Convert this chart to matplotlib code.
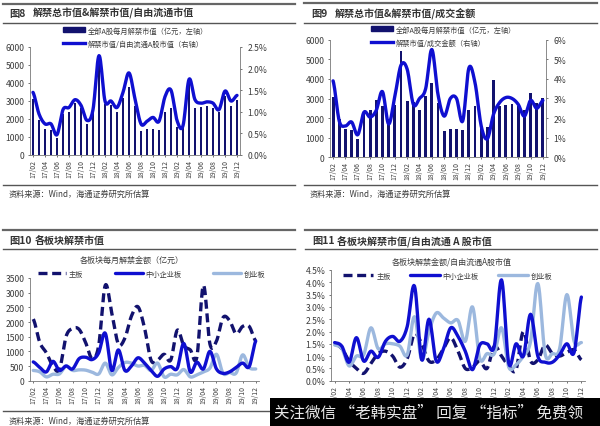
import numpy as np
import matplotlib
matplotlib.use("Agg")
import matplotlib.pyplot as plt
from matplotlib.lines import Line2D
from matplotlib.patches import Rectangle, Patch

plt.rcParams['font.family'] = ['Noto Sans CJK SC', 'DejaVu Sans']

W, H = 600, 427
months = [f"{y}/{m:02d}" for y, ms in ((17, range(2, 13)), (18, range(1, 13)), (19, range(1, 13))) for m in ms]

unlock_value = [3100, 1950, 1450, 1400, 950, 2300, 2400, 2900, 2600, 1750, 2650, 5400,
                2850, 2800, 2400, 3150, 3800, 2750, 1350, 1450, 1450, 1400, 2400, 2600,
                1550, 1550, 3950, 2600, 2650, 2700, 2600, 2400, 3300, 2750, 3050]
ratio_free_float = [1.45, 0.95, 0.72, 0.72, 0.47, 1.05, 1.1, 1.28, 1.15, 0.8, 1.05, 2.3,
                    1.25, 1.25, 1.1, 1.45, 1.9, 1.3, 0.72, 0.78, 0.87, 0.78, 1.35, 1.5,
                    0.8, 0.68, 1.75, 1.28, 1.2, 1.23, 1.2, 1.05, 1.48, 1.25, 1.38]
ratio_turnover = [3.9, 1.85, 1.6, 1.8, 1.15, 2.3, 2.05, 2.4, 3.35, 1.7, 3.1, 4.7,
                  4.5, 2.7, 3.0, 3.5, 5.5, 3.2, 2.1, 3.0, 3.0, 1.85, 4.55, 3.8,
                  1.6, 0.95, 2.2, 2.8, 3.05, 3.0, 2.7, 2.1, 2.9, 2.5, 2.9]
main_amt = [2100, 1300, 950, 500, 380, 1500, 1780, 1750, 1300, 750, 1200, 3250,
            2300, 1250, 1450, 2200, 2520, 1800, 700, 700, 900, 700, 1720, 1200,
            1050, 800, 3250, 1250, 1350, 2150, 2050, 1600, 1850, 1850, 1350]
sme_amt = [640, 450, 300, 660, 350, 500, 400, 750, 800, 720, 950, 1620,
           350, 1050, 350, 500, 780, 600, 350, 150, 400, 480, 420, 1270,
           300, 630, 400, 1000, 400, 250, 300, 450, 600, 480, 1350]
gem_amt = [350, 300, 130, 220, 230, 500, 350, 370, 360, 290, 230, 600,
           200, 450, 620, 600, 500, 520, 350, 600, 130, 220, 200, 380,
           130, 200, 300, 430, 900, 250, 280, 260, 880, 450, 400]
main_pct = [1.5, 1.3, 0.8, 0.5, 0.3, 0.7, 1.1, 1.2, 1.0, 0.55, 0.9, 1.9,
            1.5, 0.8, 0.85, 1.3, 1.75, 1.2, 0.5, 0.55, 0.8, 0.5, 1.4, 1.0,
            0.6, 0.45, 2.0, 0.8, 0.85, 1.45, 1.1, 1.0, 1.15, 1.25, 0.85]
sme_pct = [1.55, 1.4, 0.75, 1.75, 0.8, 1.2, 0.95, 1.6, 1.8, 1.6, 2.2, 3.85,
           0.85, 2.5, 0.8, 1.3, 2.15, 1.8, 1.2, 0.45, 1.45, 1.5, 1.4, 4.1,
           0.7, 1.5, 1.0, 2.7, 1.0, 0.75, 0.75, 1.05, 1.5, 1.15, 3.4]
gem_pct = [1.45, 1.3, 0.6, 1.0, 1.05, 2.15, 1.3, 1.5, 1.5, 1.4, 1.05, 2.6,
           0.85, 2.0, 2.75, 2.55, 2.35, 2.45, 1.6, 3.0, 0.9, 1.1, 1.1, 2.15,
           0.55, 0.65, 1.0, 1.6, 3.95, 1.1, 1.1, 1.3, 3.5, 1.6, 1.55]

NAVY, BLUE, LIGHT = '#12126e', '#0f0fd0', '#9cb8de'
TXT, RULE = '#3c3c3c', '#555555'
LW = 2.4
DASH = (2.7, 1.4)
TICK_FS = 6.2

fig = plt.figure(figsize=(W / 100, H / 100), dpi=100, facecolor='white')
idx = np.arange(len(months))


def fx(p):
    return p / W


def fy(p):
    return 1 - p / H


def make_ax(x0, x1, ytop, ybot):
    ax = fig.add_axes([fx(x0), fy(ybot), (x1 - x0) / W, (ybot - ytop) / H])
    ax.set_xlim(-0.5, len(months) - 0.5)
    ax.patch.set_alpha(0)
    for s in ('top', 'right'):
        ax.spines[s].set_visible(False)
    for s in ('left', 'bottom'):
        ax.spines[s].set_color('#777777')
        ax.spines[s].set_linewidth(0.6)
    ax.set_xticks(idx[::2], months[::2], rotation=90)
    ax.tick_params(axis='x', labelsize=4.9, length=1.5, width=0.5, pad=1.5, colors=TXT)
    ax.tick_params(axis='y', labelsize=TICK_FS, length=1.5, width=0.5, pad=2.5, colors=TXT)
    return ax


def smooth(y, n=12):
    """Excel-style smoothing used only to render the curve between read values."""
    y = np.asarray(y, float)
    p = np.concatenate(([y[0]], y, [y[-1]]))
    xs, ys = [], []
    for i in range(len(y) - 1):
        t = np.linspace(0, 1, n, endpoint=False)
        a, b, c, d = p[i], p[i + 1], p[i + 2], p[i + 3]
        ys.append(0.5 * (2 * b + (c - a) * t + (2 * a - 5 * b + 4 * c - d) * t ** 2 + (3 * b - a - 3 * c + d) * t ** 3))
        xs.append(i + t)
    return np.concatenate(xs + [[len(y) - 1]]), np.concatenate(ys + [[y[-1]]])


def curve(ax, y, color, dashed=False, z=3):
    xs, ys = smooth(y)
    ln, = ax.plot(xs, ys, color=color, lw=LW, zorder=z, solid_capstyle='round')
    if dashed:
        ln.set_linestyle((0, DASH))
        ln.set_dash_capstyle('butt')
    return ln


def frame(x0, x1, top, title_y, under, bottom, src_y, num, title, num_x, title_x, source=True):
    for y, lw, c in ((top, 1.6, '#666666'), (under, 1.0, RULE), (bottom, 1.0, RULE)):
        fig.add_artist(Line2D([fx(x0), fx(x1)], [fy(y), fy(y)], color=c, lw=lw))
    fig.text(fx(num_x), fy(title_y), num, fontsize=7.4, fontweight='bold', color='#333333', va='center')
    fig.text(fx(title_x), fy(title_y), title, fontsize=7.2, fontweight='bold', color='#333333', va='center')
    if source:
        fig.text(fx(x0 + 6), fy(src_y), '资料来源：Wind，海通证券研究所估算', fontsize=5.9, color=TXT, va='center')


def legend(ax, handles, labels, x, y, hl, ncols=1, col=1.0, row=0.5):
    leg = ax.legend(handles, labels, loc='center left', bbox_to_anchor=(fx(x), fy(y)),
                    bbox_transform=fig.transFigure, frameon=False, fontsize=5.2, ncols=ncols,
                    handlelength=hl, handletextpad=0.4, columnspacing=col, labelspacing=row,
                    borderpad=0, borderaxespad=0)
    for t in leg.get_texts():
        t.set_color(TXT)
    return leg


def combo(x0, x1, ytop, ybot, line, rmax, rstep, rfmt, labels, lx, ly, bar_w=0.46):
    ax = make_ax(x0, x1, ytop, ybot)
    ax.bar(idx, unlock_value, width=bar_w, color=NAVY, zorder=2)
    ax.set_ylim(0, 6000)
    ax.set_yticks(np.arange(0, 6001, 1000))
    ax2 = ax.twinx()
    ax2.patch.set_alpha(0)
    ax2.set_ylim(0, rmax)
    ax2.set_yticks(np.arange(0, rmax + 1e-6, rstep), [rfmt % v for v in np.arange(0, rmax + 1e-6, rstep)])
    ax2.tick_params(axis='y', labelsize=TICK_FS, length=1.5, width=0.5, pad=4, colors=TXT)
    ax2.spines['top'].set_visible(False)
    ax2.spines['left'].set_visible(False)
    ax2.spines['bottom'].set_visible(False)
    ax2.spines['right'].set_color('#777777')
    ax2.spines['right'].set_linewidth(0.6)
    curve(ax2, line, BLUE)
    legend(ax2, [Patch(color=NAVY), Line2D([], [], color=BLUE, lw=LW)], labels, lx, ly, 3.0, row=0.7)


frame(3, 295, 4.7, 13.5, 23.5, 186, 194, '图8', '解禁总市值&解禁市值/自由流通市值', 9, 33)
combo(30, 240, 48, 156, ratio_free_float, 2.5, 0.5, '%.1f%%',
      ['全部A股每月解禁市值（亿元，左轴）', '解禁市值/自由流通A股市值（右轴）'], 63, 38)

frame(304, 597, 4, 13.5, 23.5, 186, 194, '图9', '解禁总市值&解禁市值/成交金额', 311, 335)
combo(330, 546, 40.7, 158.3, ratio_turnover, 6, 1, '%.0f%%',
      ['全部A股每月解禁市值（亿元，左轴）', '解禁市值/成交金额（右轴）'], 371, 37)

series_labels = ['主板', '中小企业板', '创业板']

frame(3, 295, 231, 241, 250, 412, 421, '图10', '各板块解禁市值', 9, 35)
ax3 = make_ax(30, 259, 279, 381.7)
ax3.set_ylim(0, 3500)
ax3.set_yticks(np.arange(0, 3501, 500))
l1 = curve(ax3, main_amt, NAVY, dashed=True, z=3)
l3 = curve(ax3, gem_amt, LIGHT, z=3.2)
l2 = curve(ax3, sme_amt, BLUE, z=3.4)
fig.text(fx(132), fy(260), '各板块每月解禁金额（亿元）', fontsize=5.8, color=TXT, ha='center', va='center')
legend(ax3, [l1, l2, l3], series_labels, 38, 275, 3.9, ncols=3, col=4.3)

# the source line of this panel is covered by the black banner in the reference
frame(305, 597, 231, 241, 250, 412, 421, '图11', '各板块解禁市值/自由流通 A 股市值', 312, 337, source=False)
ax4 = make_ax(331, 585, 271, 381.7)
ax4.set_ylim(0, 4.5)
ax4.set_yticks(np.arange(0, 4.51, 0.5), [f'{v:.1f}%' for v in np.arange(0, 4.51, 0.5)])
m1 = curve(ax4, main_pct, NAVY, dashed=True, z=3)
m3 = curve(ax4, gem_pct, LIGHT, z=3.2)
m2 = curve(ax4, sme_pct, BLUE, z=3.4)
fig.text(fx(452), fy(261.7), '各板块解禁金额/自由流通A股市值', fontsize=5.8, color=TXT, ha='center', va='center')
legend(ax4, [m1, m2, m3], series_labels, 343, 276.7, 4.2, ncols=3, col=2.6)

fig.add_artist(Rectangle((fx(270), 0), (W - 270) / W, 28 / H, transform=fig.transFigure,
                         facecolor='black', edgecolor='none', zorder=20))
fig.text(fx(274), fy(413), '关注微信 “老韩实盘” 回复 “指标” 免费领', fontsize=11.2, color='#e8e8e8',
         va='center', zorder=21)

fig.savefig('out.png', dpi=100)
